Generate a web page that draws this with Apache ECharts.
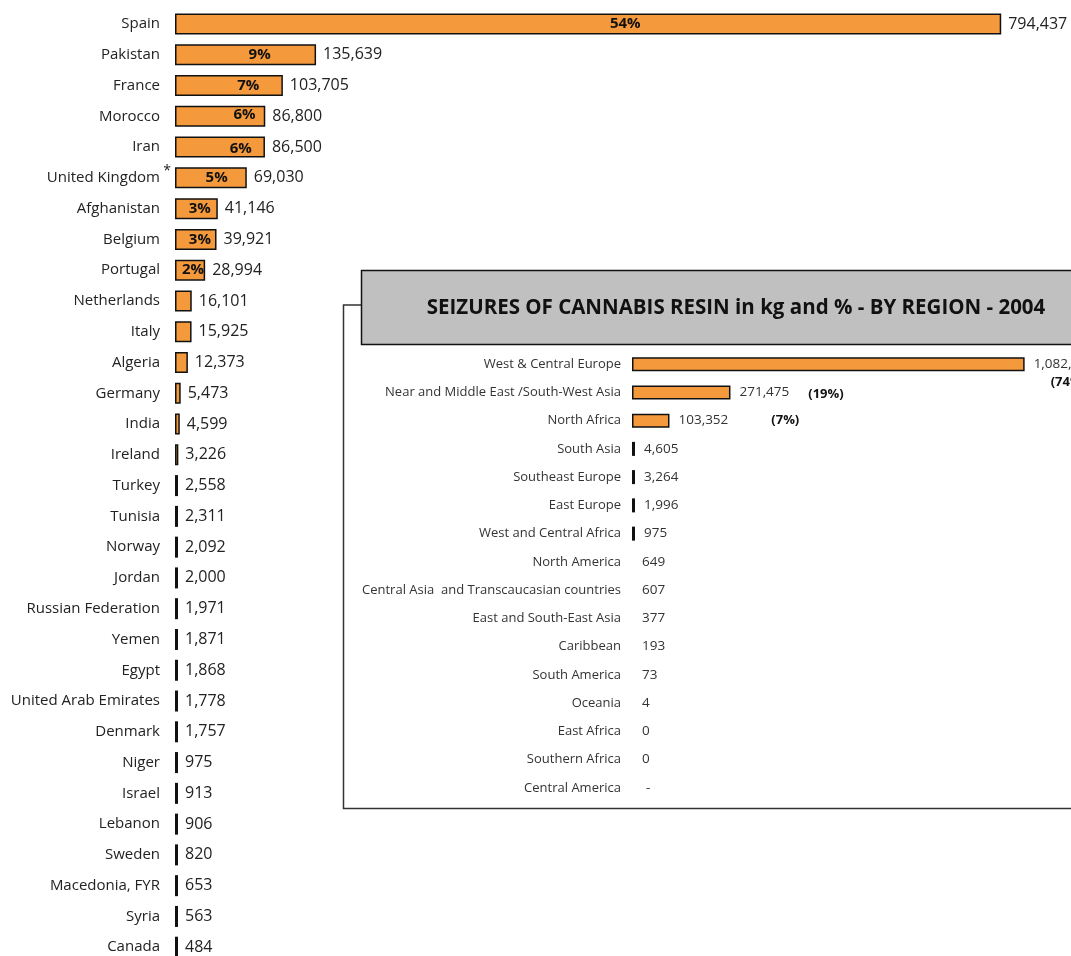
<!DOCTYPE html>
<html>
<head>
<meta charset="utf-8">
<script src="https://cdn.jsdelivr.net/npm/echarts@6/dist/echarts.min.js"></script>
<style>
html,body{margin:0;padding:0;background:#fff;overflow:hidden;}
#chart{width:1071px;height:964px;}
</style>
</head>
<body>
<div id="chart"></div>
<script>
// ---- Main chart data (countries, kg) ----
const countries = ['Spain','Pakistan','France','Morocco','Iran','United Kingdom','Afghanistan','Belgium','Portugal','Netherlands','Italy','Algeria','Germany','India','Ireland','Turkey','Tunisia','Norway','Jordan','Russian Federation','Yemen','Egypt','United Arab Emirates','Denmark','Niger','Israel','Lebanon','Sweden','Macedonia, FYR','Syria','Canada'];
const countryValues = [794437,135639,103705,86800,86500,69030,41146,39921,28994,16101,15925,12373,5473,4599,3226,2558,2311,2092,2000,1971,1871,1868,1778,1757,975,913,906,820,653,563,484];
const countryPct = ['54%','9%','7%','6%','6%','5%','3%','3%','2%'];
const footnoteCountry = 'United Kingdom';

// ---- Inset data (regions, kg) ----
const regions = ['West & Central Europe','Near and Middle East /South-West Asia','North Africa','South Asia','Southeast Europe','East Europe','West and Central Africa','North America','Central Asia  and Transcaucasian countries','East and South-East Asia','Caribbean','South America','Oceania','East Africa','Southern Africa','Central America'];
const regionValues = [1082500,271475,103352,4605,3264,1996,975,649,607,377,193,73,4,0,0,null];
const regionPct = ['74%','19%','7%'];
const insetTitle = 'SEIZURES OF CANNABIS RESIN in kg and % - BY REGION - 2004';

// ---- styles ----
const ORANGE = '#F59A3C';
const FONT = '"Open Sans", "Noto Sans", sans-serif';
const pctLabelX = ['54.5%','60%','68%','77%','73%','58%','58%','60%','60%'];
const pctLabelDy = [0,0,0,-2,2,0,0,0,0];
const fmt = v => v.toLocaleString('en-US');

const chart = echarts.init(document.getElementById('chart'));

const mainBars = countryValues.map(v => ({value: v}));
const pctBars = countryValues.map((v, i) => ({
  value: v,
  label: i < countryPct.length ? {
    show: true,
    position: [pctLabelX[i], '50%'],
    align: 'center', verticalAlign: 'middle',
    offset: [0, pctLabelDy[i]],
    formatter: countryPct[i],
    fontFamily: FONT, fontWeight: 'bold', fontSize: 15, color: '#111'
  } : {show: false}
}));

const insetBars = regionValues.map((v, i) => {
  const val = v === null ? 0 : v;
  const visible = v !== null && v >= 900;
  let label = {};
  if (i === 0) {
    label = {formatter: '{v|' + fmt(v) + '}\n{p|(' + regionPct[0] + ')}', offset: [0, 9]};
  } else if (i === 1) {
    label = {formatter: '{v|' + fmt(v) + '}{p2|(' + regionPct[1] + ')}'};
  } else if (i === 2) {
    label = {formatter: '{v|' + fmt(v) + '}{p3|(' + regionPct[2] + ')}'};
  } else if (v === null) {
    label = {formatter: '{v|-}', distance: 11};
  } else if (!visible) {
    label = {distance: 7};
  }
  return {
    value: val,
    itemStyle: visible ? {} : {color: 'rgba(0,0,0,0)', borderWidth: 0},
    label: label
  };
});

const option = {
  animation: false,
  backgroundColor: '#fff',
  grid: [
    {left: 175, top: 8.6, width: 832, height: 954, containLabel: false},
    {left: 632, top: 350, width: 399, height: 452, containLabel: false}
  ],
  xAxis: [
    {gridIndex: 0, type: 'value', min: 0, max: 800000, show: false},
    {gridIndex: 1, type: 'value', min: 0, max: 1100000, show: false}
  ],
  yAxis: [
    {gridIndex: 0, type: 'category', data: countries, inverse: true,
     axisLine: {show: false}, axisTick: {show: false}, splitLine: {show: false},
     axisLabel: {margin: 15, fontFamily: FONT, fontSize: 15, color: '#222'}},
    {gridIndex: 1, type: 'category', data: regions, inverse: true,
     axisLine: {show: false}, axisTick: {show: false}, splitLine: {show: false},
     axisLabel: {margin: 11, fontFamily: FONT, fontSize: 13, color: '#333'}}
  ],
  graphic: [
    {type: 'polyline', z: 1, shape: {points: [[361, 305], [343.5, 305], [343.5, 808.5], [1080, 808.5]]},
     style: {stroke: '#333', lineWidth: 1.5, fill: null}},
    {type: 'rect', z: 1, shape: {x: 361.5, y: 270.5, width: 720, height: 74},
     style: {fill: '#C0C0C0', stroke: '#111', lineWidth: 1.5}},
    {type: 'text', z: 2, x: 736, y: 308,
     style: {text: insetTitle, fontFamily: FONT, fontWeight: 'bold', fontSize: 20.5,
             fill: '#111', align: 'center', verticalAlign: 'middle'}}
  ],
  series: [
    {
      type: 'bar', xAxisIndex: 0, yAxisIndex: 0, data: mainBars,
      barWidth: 21, barMinHeight: 3, z: 3,
      itemStyle: {color: ORANGE, borderColor: '#111', borderWidth: 1.5},
      label: {show: true, position: 'right', distance: 7,
              formatter: p => fmt(countryValues[p.dataIndex]),
              fontFamily: FONT, fontSize: 16, color: '#222'}
    },
    {
      type: 'bar', xAxisIndex: 0, yAxisIndex: 0, data: pctBars,
      barWidth: 21, barMinHeight: 3, barGap: '-100%', z: 4, silent: true,
      itemStyle: {color: 'rgba(0,0,0,0)', borderWidth: 0}
    },
    {
      type: 'bar', xAxisIndex: 1, yAxisIndex: 1, data: insetBars,
      barWidth: 14, barMinHeight: 3, z: 3,
      itemStyle: {color: ORANGE, borderColor: '#111', borderWidth: 1.5},
      label: {show: true, position: 'right', distance: 9,
              formatter: p => '{v|' + fmt(regionValues[p.dataIndex]) + '}',
              rich: {
                v: {fontFamily: FONT, fontSize: 13.5, color: '#333', lineHeight: 18},
                p: {fontFamily: FONT, fontSize: 13, fontWeight: 'bold', color: '#111', padding: [0, 0, 0, 17], lineHeight: 18},
                p2: {fontFamily: FONT, fontSize: 13, fontWeight: 'bold', color: '#111', padding: [4, 0, 0, 19]},
                p3: {fontFamily: FONT, fontSize: 13, fontWeight: 'bold', color: '#111', padding: [0, 0, 0, 43]}
              }}
    }
  ]
};
chart.setOption(option);

// footnote asterisk next to United Kingdom, positioned from the category scale
const ukY = chart.convertToPixel({yAxisIndex: 0}, footnoteCountry);
const gridLeft = chart.convertToPixel({xAxisIndex: 0}, 0);
chart.setOption({graphic: option.graphic.concat([
  {type: 'text', z: 5, x: gridLeft - 8, y: ukY - 7,
   style: {text: '*', fontFamily: FONT, fontSize: 14, fill: '#222', align: 'center', verticalAlign: 'middle'}}
])});
</script>
</body>
</html>
